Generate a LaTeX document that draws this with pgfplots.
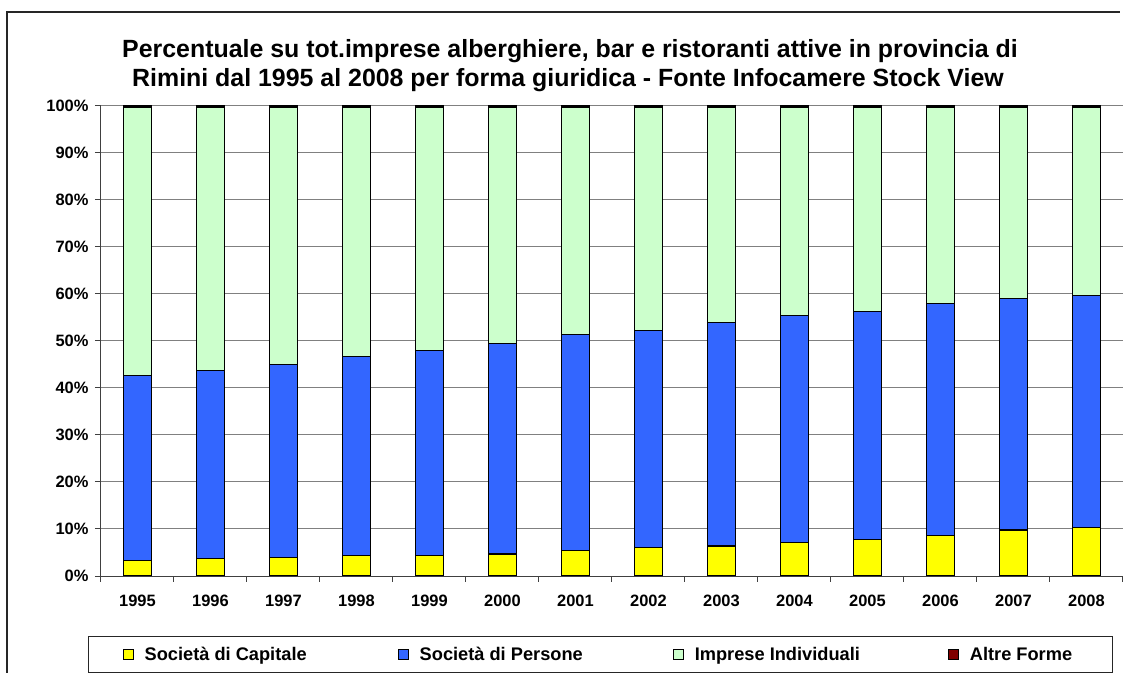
\documentclass[border=0pt]{standalone}
\usepackage{fontspec}
\setmainfont{Liberation Sans}
\usepackage{pgfplots}
\usepackage{pgfplotstable}
\pgfplotsset{compat=1.18}

\definecolor{capitale}{HTML}{FFFF00}
\definecolor{persone}{HTML}{3366FF}
\definecolor{individ}{HTML}{CCFFCC}
\definecolor{altre}{HTML}{800000}

% shares in percent
\pgfplotstableread{
x  year cap  pers ind  altre
0  1995 3.3  39.3 57.0 0.4
1  1996 3.7  40.0 55.9 0.4
2  1997 4.0  41.0 54.6 0.4
3  1998 4.4  42.3 52.9 0.4
4  1999 4.4  43.5 51.7 0.4
5  2000 4.7  44.7 50.2 0.4
6  2001 5.4  45.9 48.3 0.4
7  2002 6.1  46.2 47.3 0.4
8  2003 6.4  47.6 45.6 0.4
9  2004 7.1  48.3 44.2 0.4
10 2005 7.8  48.5 43.3 0.4
11 2006 8.7  49.3 41.6 0.4
12 2007 9.8  49.2 40.6 0.4
13 2008 10.4 49.3 39.9 0.4
}\shares

\begin{document}
\begin{tikzpicture}
\path[use as bounding box] (0,0) rectangle (1125bp,673bp);
% outer chart frame (left and top edges only; the rest is cropped)
\draw[black!85, line width=1.5bp] (7bp,0bp) -- (7bp,661bp) -- (1120bp,661bp);
% title
\node[anchor=base, font=\fontsize{25}{29}\selectfont\bfseries]
  at (570bp,615.7bp) {Percentuale su tot.imprese alberghiere, bar e ristoranti attive in provincia di};
\node[anchor=base, font=\fontsize{25}{29}\selectfont\bfseries]
  at (568bp,586.3bp) {Rimini dal 1995 al 2008 per forma giuridica - Fonte Infocamere Stock View};

\begin{axis}[
    at={(101bp,97bp)}, anchor=south west,
    scale only axis,
    width=1022bp, height=470bp,
    ybar stacked,
    bar width=28bp,
    xmin=-0.5, xmax=13.5,
    ymin=0, ymax=100,
    xtick=data,
    xticklabels from table={\shares}{year},
    minor xtick={-0.5,0.5,...,13.5},
    ytick={0,10,...,100},
    yticklabel={\pgfmathprintnumber{\tick}\%},
    /pgf/number format/assume math mode=true,
    ticklabel style={font=\fontsize{16.5}{20}\selectfont\bfseries},
    axis x line*=bottom,
    axis y line*=left,
    axis line style={black!75, line width=1bp},
    tick align=outside,
    major x tick style={draw=none},
    minor x tick style={black!75, line width=1bp},
    major y tick style={black!75, line width=1bp},
    major tick length=6bp,
    minor tick length=6bp,
    ymajorgrids,
    major grid style={gray, line width=1bp},
    xticklabel style={yshift=-10bp},
    yticklabel style={xshift=-3bp},
    legend columns=4,
    legend style={
        at={(axis description cs:-0.0127,-0.1277)}, anchor=north west,
        draw=black!85, line width=1bp,
        inner xsep=34bp, inner ysep=8.5bp,
        font=\fontsize{18.3}{22}\selectfont\bfseries,
    },
    legend image code/.code={
        \draw[#1, line width=1bp] (0bp,-5bp) rectangle (10bp,5bp);
        \path (19bp,0bp);
    },
]
\addplot[fill=capitale, draw=black, line width=1.2bp] table[x=x, y=cap] {\shares};
\addlegendentry{\makebox[251bp][l]{Società di Capitale}}
\addplot[fill=persone, draw=black, line width=1.2bp] table[x=x, y=pers] {\shares};
\addlegendentry{\makebox[251bp][l]{Società di Persone}}
\addplot[fill=individ, draw=black, line width=1.2bp] table[x=x, y=ind] {\shares};
\addlegendentry{\makebox[251bp][l]{Imprese Individuali}}
\addplot[fill=altre, draw=black, line width=1.2bp] table[x=x, y=altre] {\shares};
\addlegendentry{\makebox[107bp][l]{Altre Forme}}
\end{axis}
\end{tikzpicture}
\end{document}
